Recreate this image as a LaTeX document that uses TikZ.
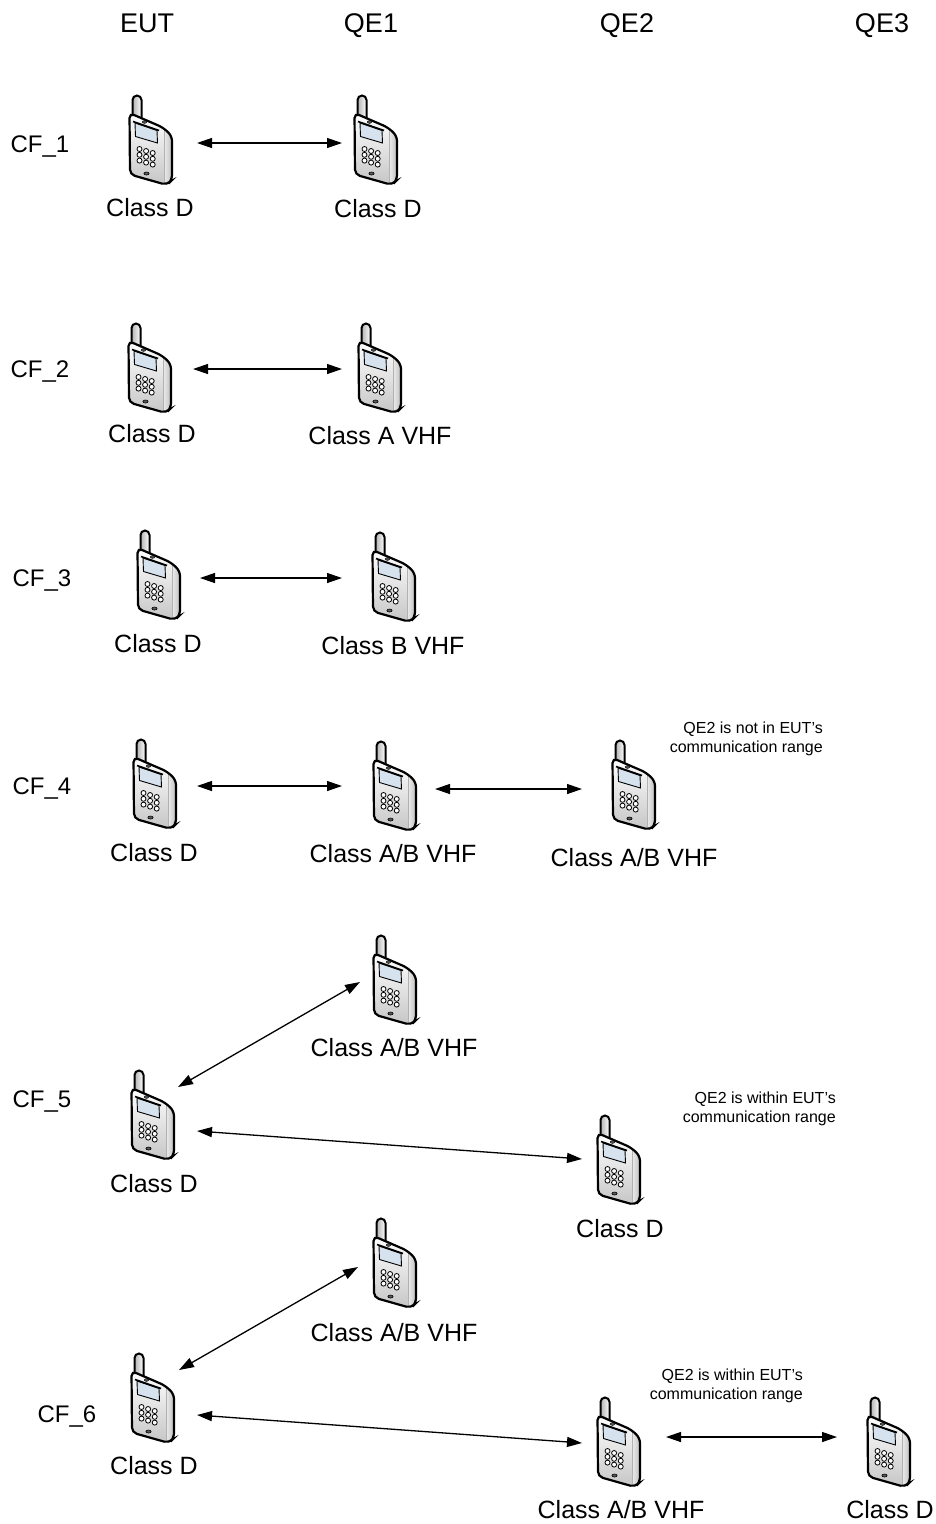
\documentclass[tikz,border=0pt]{standalone}
\usepackage{fontspec}
\setmainfont{Liberation Sans}
\usetikzlibrary{arrows.meta,calc}
\tikzset{
  conn/.style={line width=1.3pt,{Triangle[length=15pt,width=10pt]}-{Triangle[length=15pt,width=10pt]}},
  hdr/.style={font=\fontsize{27}{32}\selectfont,anchor=base,inner sep=0pt},
  lbl/.style={font=\fontsize{25}{30}\selectfont,anchor=base,inner sep=0pt},
  cfl/.style={font=\fontsize{24}{29}\selectfont,anchor=base,inner sep=0pt},
  note/.style={font=\fontsize{16}{19}\selectfont,align=right,anchor=east,inner sep=0pt},
  phonebox/.style={minimum width=46pt,minimum height=90pt,inner sep=0pt},
  phone/.pic={
    \begin{scope}[shift={(-22,-45)}]
      % antenna
      \draw[line width=2pt,left color=gray!60,right color=white,rounded corners=4.5pt]
        (3.5,28) -- (3.5,0.5) -- (12.5,0.5) -- (12.5,28);
      % body fill
      \fill[top color=white,bottom color=gray!45,rounded corners=5pt]
        (0.5,18) -- (34,32.5) -- (43,41) -- (43,85) -- (38,90) -- (1,79.5) -- cycle;
      % side face
      \fill[left color=gray!15,right color=gray!50,rounded corners=3pt]
        (35,34) -- (43,41.5) -- (43,84.5) -- (38,89.5) -- (35,88) -- cycle;
      \draw[gray!60,line width=0.6pt] (35,35) -- (35,88);
      % body outline
      \draw[line width=2.2pt,rounded corners=5pt]
        (0.5,18) -- (34,32.5) -- (43,41) -- (43,85) -- (38,90) -- (1,79.5) -- cycle;
      % screen
      \draw[line width=0.9pt,fill={rgb,255:red,214;green,226;blue,238}]
        (6,28) -- (28,35.5) -- (28.5,48) -- (6.5,41.5) -- cycle;
      \draw[line width=1.6pt] (4,26.5) -- (30,35.5);
      % speaker
      \draw[line width=0.5pt,fill=gray!70!black] (15.5,27) ellipse[x radius=2.2pt,y radius=1.3pt];
      % keys
      \foreach \c in {0,1,2}{
        \foreach \r in {0,1,2}{
          \draw[line width=0.8pt,fill=white] ({10.5+6.6*\c},{54+5.8*\r+2*\c}) circle[radius=2.5pt];
        }
      }
      \draw[line width=0.6pt,fill=gray!70!black] (17.5,78.5) ellipse[x radius=2.6pt,y radius=1.5pt];
    \end{scope}
  }
}
\begin{document}
\begin{tikzpicture}[x=1pt,y=-1pt]
\useasboundingbox (0,0) rectangle (935,1524);

% column headers
\node[hdr] (hEUT) at (147,32) {EUT};
\node[hdr] (hQE1) at (371,32) {QE1};
\node[hdr] (hQE2) at (627,32) {QE2};
\node[hdr] (hQE3) at (882,32) {QE3};

% ---------- CF_1
\node[cfl] (cf1) at (40,152) {CF\_1};
\node[phonebox] (e1) at (151,140) {}; \pic at (e1) {phone};
\node[phonebox] (q1) at (376,140) {}; \pic at (q1) {phone};
\node[lbl] (e1l) at (150,216) {Class D};
\node[lbl] (q1l) at (378,217) {Class D};
\draw[conn] ($(e1)+(46,3)$) -- ($(q1)+(-34,3)$);

% ---------- CF_2
\node[cfl] (cf2) at (40,377) {CF\_2};
\node[phonebox] (e2) at (150,368) {}; \pic at (e2) {phone};
\node[phonebox] (q2) at (380,368) {}; \pic at (q2) {phone};
\node[lbl] (e2l) at (152,442) {Class D};
\node[lbl] (q2l) at (380,444) {Class A VHF};
\draw[conn] ($(e2)+(43,1)$) -- ($(q2)+(-38,1)$);

% ---------- CF_3
\node[cfl] (cf3) at (42,586) {CF\_3};
\node[phonebox] (e3) at (159,575) {}; \pic at (e3) {phone};
\node[phonebox] (q3) at (394,577) {}; \pic at (q3) {phone};
\node[lbl] (e3l) at (158,652) {Class D};
\node[lbl] (q3l) at (393,654) {Class B VHF};
\draw[conn] ($(e3)+(41,3)$) -- ($(q3)+(-52,1)$);

% ---------- CF_4
\node[cfl] (cf4) at (42,794) {CF\_4};
\node[phonebox] (e4) at (155,784) {}; \pic at (e4) {phone};
\node[phonebox] (q4) at (395,786) {}; \pic at (q4) {phone};
\node[phonebox] (r4) at (634,785) {}; \pic at (r4) {phone};
\node[lbl] (e4l) at (154,861) {Class D};
\node[lbl] (q4l) at (393,862) {Class A/B VHF};
\node[lbl] (r4l) at (634,866) {Class A/B VHF};
\node[note] (n4) at (823,739) {QE2 is not in EUT’s\\communication range};
\draw[conn] ($(e4)+(42,2)$) -- ($(q4)+(-53,0)$);
\draw[conn] ($(q4)+(40,3)$) -- ($(r4)+(-52,4)$);

% ---------- CF_5
\node[cfl] (cf5) at (42,1107) {CF\_5};
\node[phonebox] (q5) at (395,980) {}; \pic at (q5) {phone};
\node[phonebox] (e5) at (153,1115) {}; \pic at (e5) {phone};
\node[phonebox] (r5) at (619,1160) {}; \pic at (r5) {phone};
\node[lbl] (q5l) at (394,1056) {Class A/B VHF};
\node[lbl] (e5l) at (154,1192) {Class D};
\node[lbl] (r5l) at (620,1237) {Class D};
\node[note] (n5) at (836,1109) {QE2 is within EUT’s\\communication range};
\draw[conn] ($(e5)+(25,-28)$) -- ($(q5)+(-35,2)$);
\draw[conn] ($(e5)+(44,16)$) -- ($(r5)+(-37,-1)$);

% ---------- CF_6
\node[cfl] (cf6) at (67,1422) {CF\_6};
\node[phonebox] (q6) at (395,1263) {}; \pic at (q6) {phone};
\node[phonebox] (e6) at (153,1398) {}; \pic at (e6) {phone};
\node[phonebox] (r6) at (619,1442) {}; \pic at (r6) {phone};
\node[phonebox] (s6) at (889,1442) {}; \pic at (s6) {phone};
\node[lbl] (q6l) at (394,1341) {Class A/B VHF};
\node[lbl] (e6l) at (154,1474) {Class D};
\node[lbl] (r6l) at (621,1518) {Class A/B VHF};
\node[lbl] (s6l) at (890,1518) {Class D};
\node[note] (n6) at (803,1386) {QE2 is within EUT’s\\communication range};
\draw[conn] ($(e6)+(26,-28)$) -- ($(q6)+(-37,4)$);
\draw[conn] ($(e6)+(44,17)$) -- ($(r6)+(-37,1)$);
\draw[conn] ($(r6)+(47,-5)$) -- ($(s6)+(-52,-5)$);
\end{tikzpicture}
\end{document}
